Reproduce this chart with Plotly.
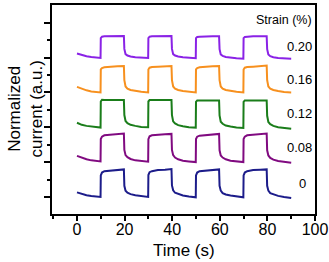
import plotly.graph_objects as go

time_s = [0, 2, 4, 6, 8, 9.9,
          10.0, 10.5, 11.5, 14, 17, 19.7,
          19.9, 20.4, 21.2, 22.5, 24.5, 27, 29.9,
          30.0, 30.5, 31.5, 34, 37, 39.7,
          39.9, 40.4, 41.2, 42.5, 44.5, 47, 49.9,
          50.0, 50.5, 51.5, 54, 57, 59.7,
          59.9, 60.4, 61.2, 62.5, 64.5, 67, 69.9,
          70.0, 70.5, 71.5, 74, 77, 79.7,
          79.9, 80.4, 81.2, 82.5, 84.5, 87, 90]

strain_0 = [0.13, 0.08, 0.05, 0.03, 0.01, 0.00,
            0.62, 0.70, 0.74, 0.76, 0.78, 0.79,
            0.32, 0.18, 0.12, 0.08, 0.05, 0.02, 0.00,
            0.63, 0.71, 0.74, 0.77, 0.78, 0.80,
            0.33, 0.19, 0.12, 0.08, 0.04, 0.01, -0.01,
            0.62, 0.70, 0.74, 0.76, 0.78, 0.79,
            0.32, 0.18, 0.11, 0.07, 0.04, 0.01, -0.01,
            0.62, 0.70, 0.74, 0.77, 0.78, 0.79,
            0.32, 0.18, 0.11, 0.07, 0.03, 0.00, -0.03]

strain_008 = [1.18, 1.12, 1.08, 1.05, 1.03, 1.02,
              1.66, 1.73, 1.77, 1.79, 1.81, 1.82,
              1.35, 1.20, 1.14, 1.09, 1.05, 1.03, 1.01,
              1.66, 1.74, 1.77, 1.79, 1.80, 1.81,
              1.35, 1.20, 1.13, 1.08, 1.04, 1.02, 1.00,
              1.66, 1.73, 1.76, 1.78, 1.80, 1.81,
              1.34, 1.19, 1.13, 1.08, 1.04, 1.02, 1.00,
              1.66, 1.73, 1.77, 1.79, 1.81, 1.82,
              1.34, 1.19, 1.12, 1.07, 1.03, 1.00, 0.98]

strain_012 = [2.13, 2.07, 2.04, 2.02, 2.00, 1.99,
              2.74, 2.79, 2.78, 2.78, 2.78, 2.78,
              2.35, 2.18, 2.12, 2.07, 2.04, 2.01, 2.00,
              2.74, 2.78, 2.78, 2.78, 2.78, 2.78,
              2.35, 2.17, 2.11, 2.06, 2.03, 2.00, 1.99,
              2.73, 2.77, 2.77, 2.77, 2.77, 2.77,
              2.34, 2.16, 2.10, 2.05, 2.02, 1.99, 1.98,
              2.73, 2.77, 2.77, 2.77, 2.77, 2.77,
              2.33, 2.15, 2.09, 2.04, 2.00, 1.98, 1.96]

strain_016 = [3.16, 3.10, 3.06, 3.03, 3.01, 3.00,
              3.66, 3.70, 3.72, 3.74, 3.75, 3.76,
              3.35, 3.17, 3.11, 3.07, 3.04, 3.02, 3.00,
              3.66, 3.71, 3.73, 3.74, 3.75, 3.76,
              3.35, 3.17, 3.11, 3.07, 3.04, 3.02, 3.00,
              3.66, 3.70, 3.72, 3.74, 3.75, 3.76,
              3.35, 3.17, 3.11, 3.07, 3.04, 3.02, 3.00,
              3.66, 3.71, 3.73, 3.74, 3.75, 3.77,
              3.35, 3.17, 3.11, 3.07, 3.04, 3.01, 3.00]

strain_020 = [4.12, 4.07, 4.04, 4.02, 4.00, 3.99,
              4.56, 4.60, 4.61, 4.61, 4.62, 4.62,
              4.25, 4.10, 4.06, 4.03, 4.01, 4.00, 3.99,
              4.56, 4.60, 4.61, 4.61, 4.62, 4.62,
              4.25, 4.10, 4.06, 4.03, 4.01, 3.99, 3.98,
              4.56, 4.59, 4.60, 4.61, 4.61, 4.61,
              4.24, 4.09, 4.05, 4.02, 4.00, 3.98, 3.97,
              4.56, 4.59, 4.60, 4.61, 4.61, 4.61,
              4.24, 4.09, 4.04, 4.01, 3.99, 3.98, 3.97]

series_labels = ["0", "0.08", "0.12", "0.16", "0.20"]
series_values = [strain_0, strain_008, strain_012, strain_016, strain_020]
series_colors = ["#1c1c8a", "#800a80", "#1a7d1a", "#f7901e", "#8a22e6"]
label_x = [94.8, 93.6, 93.6, 93.6, 93.6]
label_y = [0.40, 1.43, 2.40, 3.37, 4.31]

x_ticks = [0, 20, 40, 60, 80, 100]
y_major = [0, 1, 2, 3, 4, 5]
y_minor = [0.5, 1.5, 2.5, 3.5, 4.5]

font = "Liberation Sans, Arial, sans-serif"

fig = go.Figure()
for name, vals, col in zip(series_labels, series_values, series_colors):
    fig.add_trace(go.Scatter(x=time_s, y=vals, mode="lines", name=name,
                             line=dict(color=col, width=2), showlegend=False))

for name, lx, ly in zip(series_labels, label_x, label_y):
    fig.add_annotation(x=lx, y=ly, text=name, showarrow=False,
                       font=dict(family=font, size=13, color="black"),
                       xanchor="center", yanchor="middle")

fig.add_annotation(x=86.8, y=5.08, text="Strain (%)", showarrow=False,
                   font=dict(family=font, size=12.5, color="black"),
                   xanchor="center", yanchor="middle")

fig.add_annotation(xref="paper", yref="paper", x=(25 - 52) / 263, y=0.5,
                   text="Normalized<br>current (a.u.)", textangle=-90,
                   showarrow=False, font=dict(family=font, size=17, color="black"),
                   xanchor="center", yanchor="middle")

fig.add_annotation(xref="paper", yref="paper", x=0.5, y=(214 - 250) / 209,
                   text="Time (s)", showarrow=False,
                   font=dict(family=font, size=17, color="black"),
                   xanchor="center", yanchor="middle")

fig.update_layout(
    width=329, height=262,
    margin=dict(l=52, r=14, t=5, b=48),
    paper_bgcolor="white", plot_bgcolor="white",
    font=dict(family=font, color="black"),
    xaxis=dict(range=[-10.5, 100], tickvals=x_ticks, ticktext=[str(v) for v in x_ticks],
               ticks="outside", ticklen=5, tickwidth=1.5, tickcolor="black",
               ticklabelstandoff=-5,
               minor=dict(tickvals=[-10, 10, 30, 50, 70, 90], ticks="outside",
                          ticklen=3, tickwidth=1.5, tickcolor="black"),
               showline=True, linewidth=2, linecolor="black", mirror=True,
               showgrid=False, zeroline=False, automargin=False,
               tickfont=dict(family=font, size=16, color="black")),
    yaxis=dict(range=[-0.49, 5.51], tickvals=y_major, showticklabels=False,
               ticks="outside", ticklen=6, tickwidth=1.5, tickcolor="black",
               minor=dict(tickvals=y_minor, ticks="outside", ticklen=3,
                          tickwidth=1.5, tickcolor="black"),
               showline=True, linewidth=2, linecolor="black", mirror=True,
               showgrid=False, zeroline=False, automargin=False),
)

fig.write_html("out.html", config={"displayModeBar": False},
               post_script="document.body.style.margin='0';document.body.style.overflow='hidden';")
